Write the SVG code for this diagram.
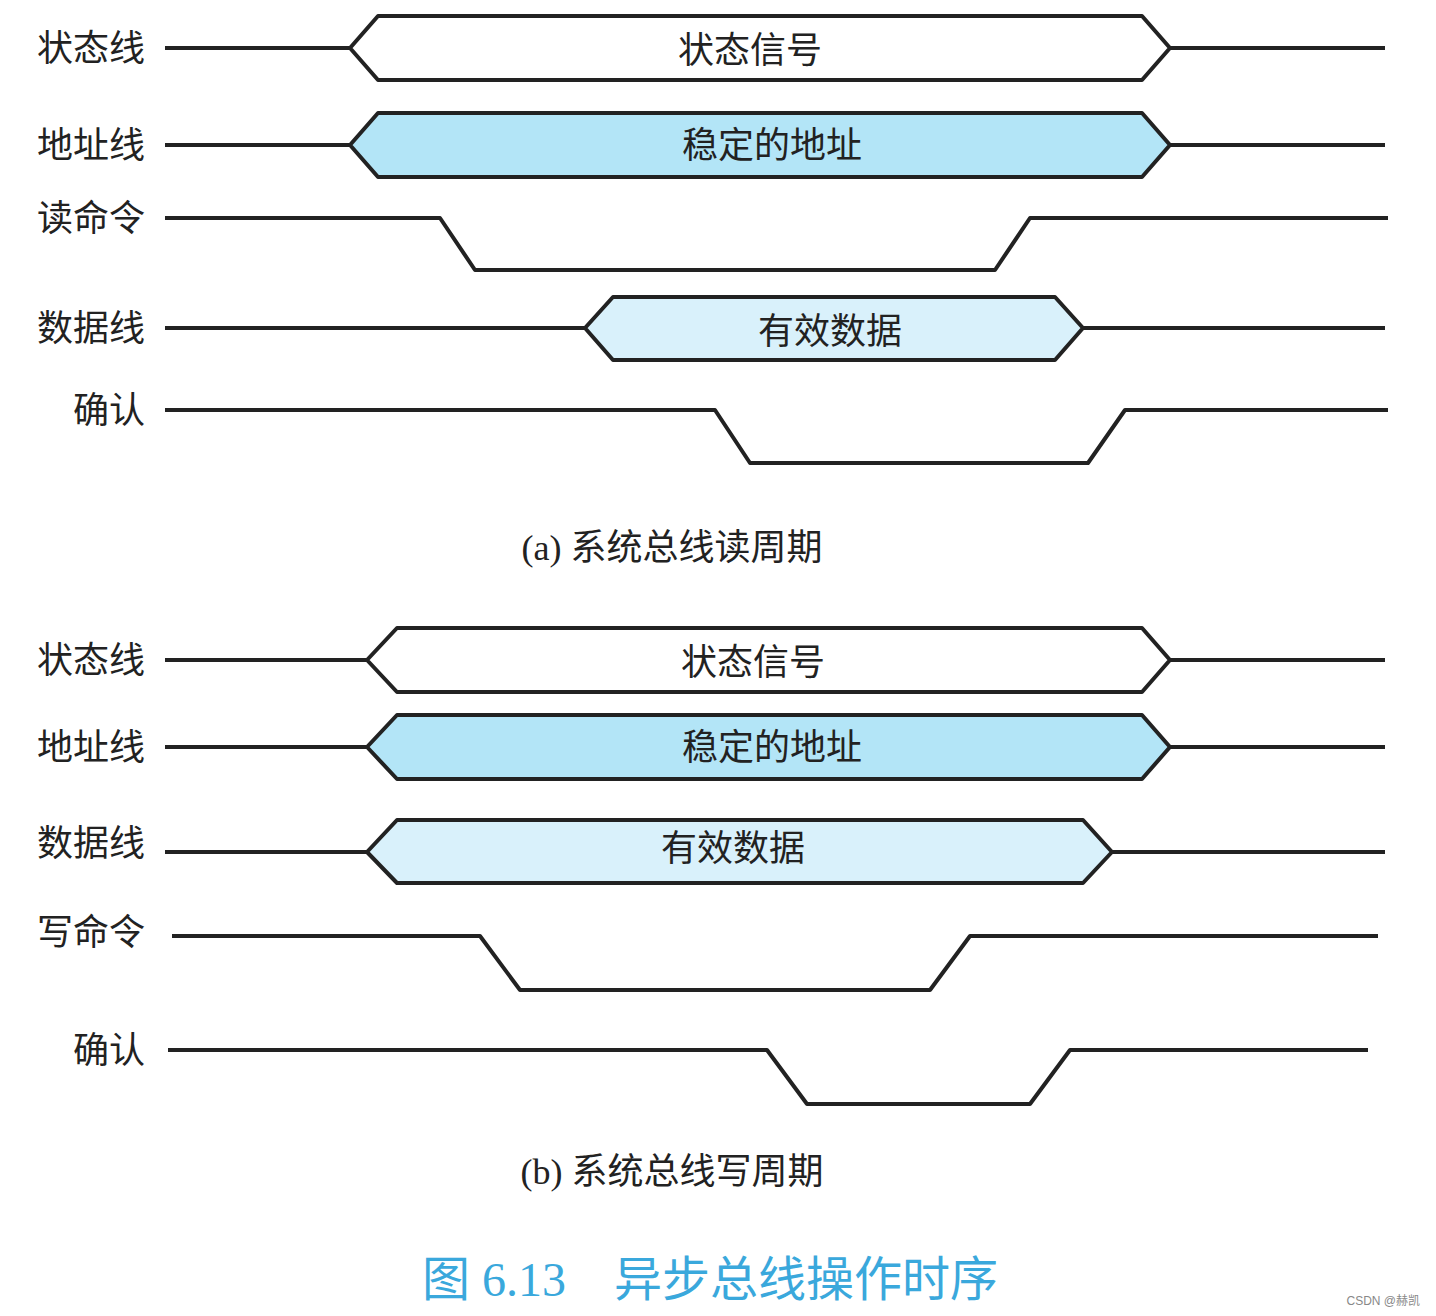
<svg xmlns="http://www.w3.org/2000/svg" width="1436" height="1316" viewBox="0 0 1436 1316">
<style>
.l{fill:none;stroke:#222;stroke-width:4;stroke-linejoin:round}
.h{stroke:#222;stroke-width:4;stroke-linejoin:round}
.t{font-family:"Noto Sans CJK SC",sans-serif;font-size:36px;fill:#222}
.lb{text-anchor:end}
.c{text-anchor:middle}
.cap{font-family:"Liberation Serif","Noto Sans CJK SC",serif;font-size:36px;fill:#222;text-anchor:middle}
</style>
<rect width="1436" height="1316" fill="#fff"/>
<g id="labels">
<text class="t lb" x="145" y="61">状态线</text>
<text class="t lb" x="145" y="158">地址线</text>
<text class="t lb" x="145" y="231">读命令</text>
<text class="t lb" x="145" y="341">数据线</text>
<text class="t lb" x="145" y="423">确认</text>
<text class="t lb" x="145" y="673">状态线</text>
<text class="t lb" x="145" y="760">地址线</text>
<text class="t lb" x="145" y="856">数据线</text>
<text class="t lb" x="145" y="945">写命令</text>
<text class="t lb" x="145" y="1063">确认</text>
</g>
<g id="connectors">
<path class="l" d="M165 48H350M1170 48H1385"/>
<path class="l" d="M165 145H350M1170 145H1385"/>
<path class="l" d="M165 218H440L475 270H995L1030 218H1388"/>
<path class="l" d="M165 328H585M1083 328H1385"/>
<path class="l" d="M165 410H715L750 463H1088L1125 410H1388"/>
<path class="l" d="M165 660H367M1170 660H1385"/>
<path class="l" d="M165 747H367M1170 747H1385"/>
<path class="l" d="M165 852H367M1112 852H1385"/>
<path class="l" d="M172 936H480L520 990H930L970 936H1378"/>
<path class="l" d="M168 1050H767L807 1104H1030L1070 1050H1368"/>
</g>
<g id="a-status"><polygon class="h" fill="#fff" points="350,48 378,16 1142,16 1170,48 1142,80 378,80"/><text class="t c" x="750" y="63">状态信号</text></g>
<g id="a-addr"><polygon class="h" fill="#b3e5f7" points="350,145 378,113 1142,113 1170,145 1142,177 378,177"/><text class="t c" x="772" y="158">稳定的地址</text></g>
<g id="a-data"><polygon class="h" fill="#d9f1fb" points="585,328 613,297 1055,297 1083,328 1055,360 613,360"/><text class="t c" x="830" y="344">有效数据</text></g>
<text class="cap" x="672" y="560">(a) 系统总线读周期</text>
<g id="b-status"><polygon class="h" fill="#fff" points="367,660 397,628 1142,628 1170,660 1142,692 397,692"/><text class="t c" x="753" y="675">状态信号</text></g>
<g id="b-addr"><polygon class="h" fill="#b3e5f7" points="367,747 397,715 1142,715 1170,747 1142,779 397,779"/><text class="t c" x="772" y="760">稳定的地址</text></g>
<g id="b-data"><polygon class="h" fill="#d9f1fb" points="367,852 397,820 1083,820 1112,852 1083,883 397,883"/><text class="t c" x="733" y="861">有效数据</text></g>
<text class="cap" x="672" y="1184">(b) 系统总线写周期</text>
<text x="710" y="1296" font-family="Liberation Serif,'Noto Sans CJK SC',serif" font-size="48" fill="#3aa8dc" text-anchor="middle">图 6.13　异步总线操作时序</text>
<text x="1420" y="1305" font-family="Liberation Sans,'Noto Sans CJK SC',sans-serif" font-size="12" fill="#888" text-anchor="end">CSDN @赫凯</text>
</svg>
